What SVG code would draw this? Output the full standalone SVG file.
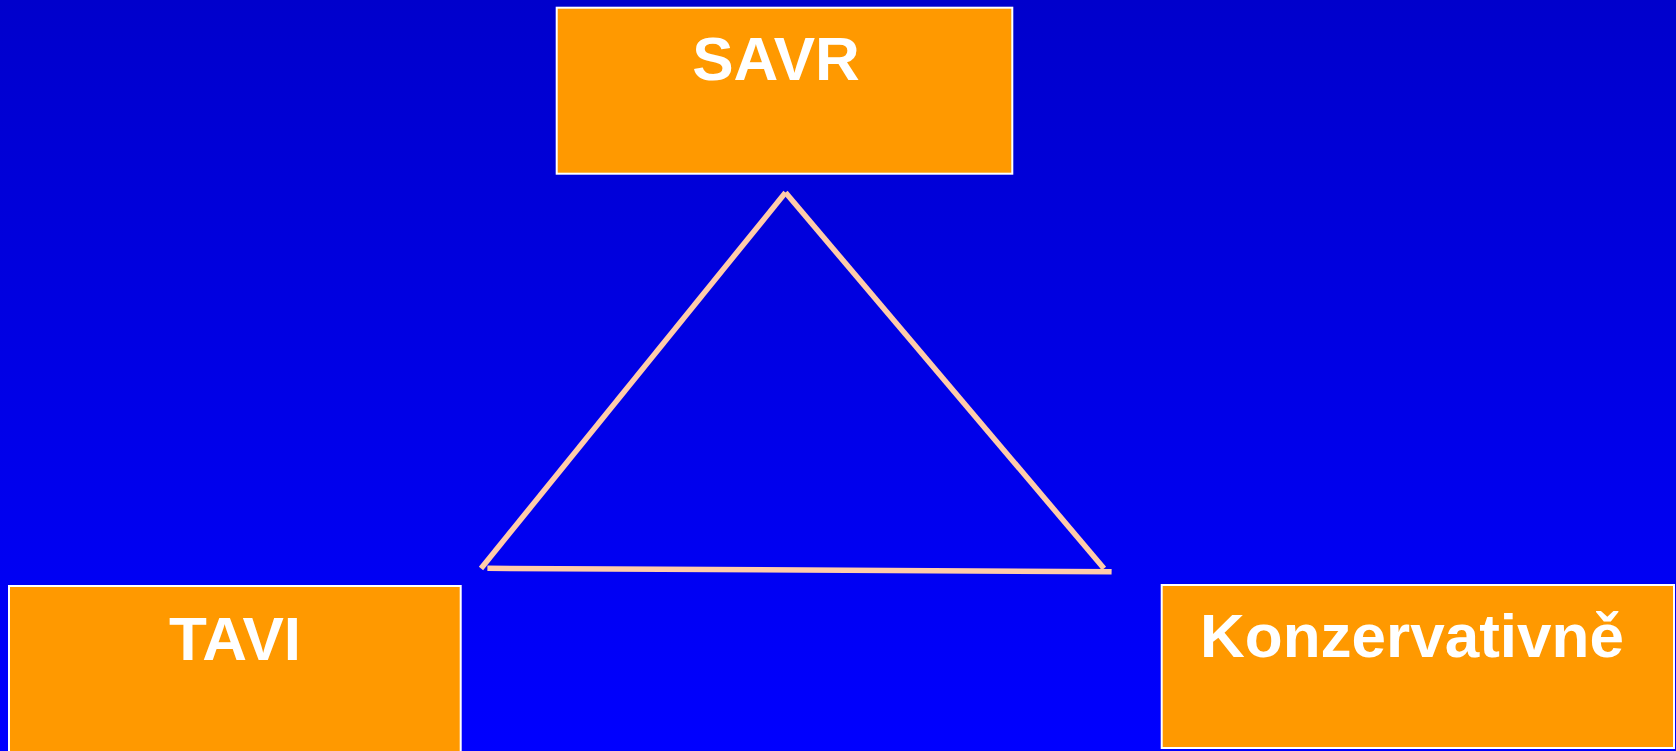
<svg xmlns="http://www.w3.org/2000/svg" width="1676" height="751" viewBox="0 0 1676 751">
  <defs>
    <linearGradient id="bg" x1="0" y1="0" x2="0" y2="1">
      <stop offset="0" stop-color="#0000CC"/>
      <stop offset="1" stop-color="#0000FF"/>
    </linearGradient>
    <style>
      .box { fill: #FF9900; stroke: #FFFFFF; stroke-width: 2; }
      .label { fill: #FFFFFF; font-family: "Liberation Sans", Arial, sans-serif; font-weight: bold; font-size: 62px; text-anchor: middle; }
      .edge { stroke: #FFCCAA; stroke-width: 5.5; fill: none; stroke-linecap: butt; }
    </style>
  </defs>
  <rect x="0" y="0" width="1676" height="751" fill="url(#bg)"/>
  <g id="savr">
    <rect class="box" x="556.7" y="7.7" width="455.6" height="166"/>
    <text class="label" x="776" y="80">SAVR</text>
  </g>
  <g id="tavi">
    <rect class="box" x="9" y="586" width="451.7" height="200"/>
    <text class="label" x="235" y="660">TAVI</text>
  </g>
  <g id="konzervativne">
    <rect class="box" x="1161.7" y="585" width="512.3" height="163"/>
    <text class="label" x="1412" y="657">Konzervativně</text>
  </g>
  <g id="connectors">
    <line class="edge" x1="785.5" y1="192.5" x2="481" y2="568.5"/>
    <line class="edge" x1="785.5" y1="192.5" x2="1104" y2="568.5"/>
    <line class="edge" x1="487.4" y1="568.3" x2="1111.6" y2="571.7" stroke-width="6.5"/>
  </g>
</svg>
